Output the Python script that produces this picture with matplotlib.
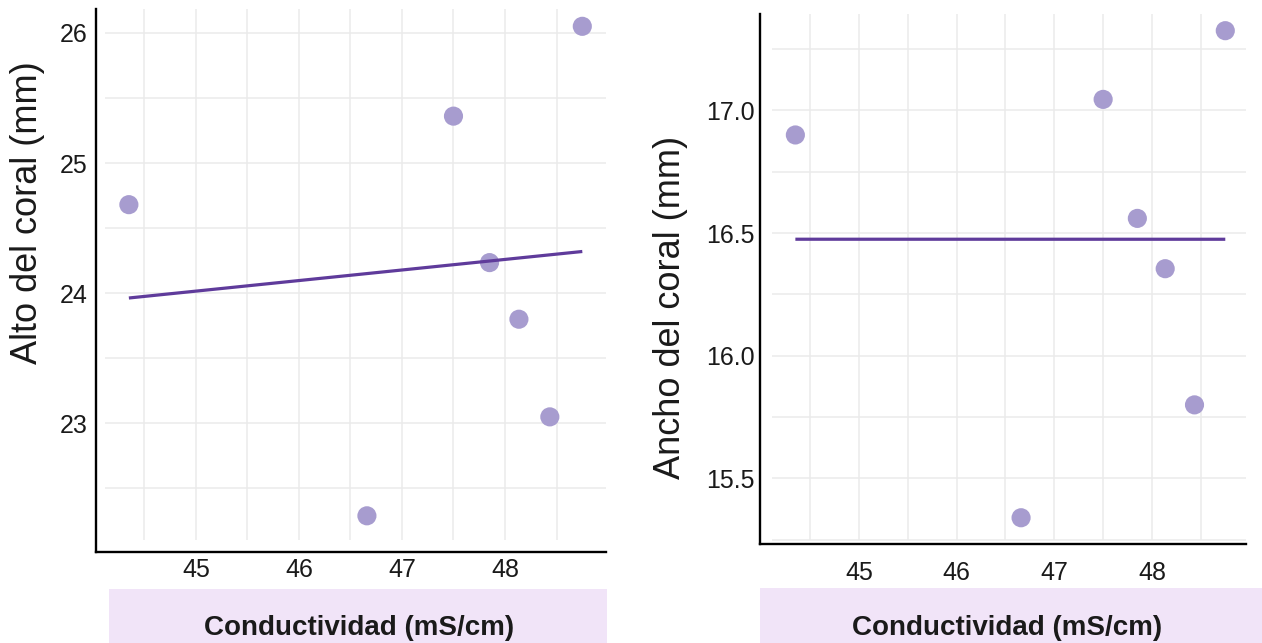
import matplotlib
matplotlib.use('Agg')
import matplotlib.pyplot as plt
from matplotlib.patches import Rectangle
import numpy as np

plt.rcParams['font.family'] = ['Liberation Sans', 'DejaVu Sans']

# data
conductividad = [44.35, 46.66, 47.50, 47.85, 48.135, 48.435, 48.75]
alto = [24.68, 22.29, 25.36, 24.235, 23.80, 23.05, 26.05]
ancho = [16.90, 15.34, 17.045, 16.56, 16.355, 15.80, 17.325]

x_ticks = [45, 46, 47, 48]
alto_ticks = [23, 24, 25, 26]
ancho_ticks = [15.5, 16.0, 16.5, 17.0]
ancho_ticklabels = ['15.5', '16.0', '16.5', '17.0']

point_col = '#a79ccf'
line_col = '#5f3b9b'
grid_col = '#ebebeb'
text_col = '#1a1a1a'

W, H = 1262, 643
fig = plt.figure(figsize=(W / 100, H / 100), dpi=100)


def px_rect(x0, x1, y0, y1):
    # pixel box (top-left origin) -> figure fraction rect
    return [x0 / W, (H - y1) / H, (x1 - x0) / W, (y1 - y0) / H]


def panel(rect, xlim, ylim, yvals, yticks, ylabels, gx, gy, gclip_x, gclip_y,
          xpad, ypad):
    ax = fig.add_axes(rect)
    ax.set_xlim(*xlim)
    ax.set_ylim(*ylim)
    # grid drawn from the tick grids, starting a little inside the axis lines
    ax.vlines(gx, gclip_y, 1, transform=ax.get_xaxis_transform(),
              color=grid_col, lw=1.1, zorder=0)
    ax.hlines(gy, gclip_x, 1, transform=ax.get_yaxis_transform(),
              color=grid_col, lw=1.1, zorder=0)
    ax.scatter(conductividad, yvals, s=190, color=point_col, edgecolors='none',
               zorder=3)
    k, b = np.polyfit(conductividad, yvals, 1)
    xs = np.array([min(conductividad), max(conductividad)])
    ax.plot(xs, k * xs + b, color=line_col, lw=2.3, zorder=4,
            solid_capstyle='butt')
    ax.set_xticks(x_ticks)
    ax.set_xticklabels([str(t) for t in x_ticks])
    ax.set_yticks(yticks)
    ax.set_yticklabels(ylabels)
    ax.tick_params(axis='x', length=0, pad=xpad, labelsize=18, labelcolor=text_col)
    ax.tick_params(axis='y', length=0, pad=ypad, labelsize=18, labelcolor=text_col)
    for s in ['top', 'right']:
        ax.spines[s].set_visible(False)
    for s in ['left', 'bottom']:
        ax.spines[s].set_linewidth(1.7)
        ax.spines[s].set_color('black')
    ax.patch.set_alpha(0)
    return ax


gx = np.arange(44.5, 48.6, 0.5)

panel(px_rect(96, 606, 9, 552), (44.031, 48.98), (22.012, 26.183),
      alto, alto_ticks, [str(t) for t in alto_ticks],
      gx, np.arange(22.5, 26.1, 0.5), 9 / 510, 12 / 543, 4, 6)

panel(px_rect(760, 1246, 14, 544), (43.988, 48.962), (15.233, 17.393),
      ancho, ancho_ticks, ancho_ticklabels,
      gx, np.arange(15.25, 17.3, 0.25), 12 / 486, 4 / 530, 12, 4)

# y axis titles
fig.text(28 / W, 1 - 213 / H, 'Alto del coral (mm)', rotation=90,
         ha='center', va='center', fontsize=26, color=text_col)
fig.text(670 / W, 1 - 307 / H, 'Ancho del coral (mm)', rotation=90,
         ha='center', va='center', fontsize=26, color=text_col)

# x axis titles on a lavender strip
for x0, x1, y0, xc in [(109, 607, 589, 359), (760, 1262, 588, 1007)]:
    fig.patches.append(Rectangle((x0 / W, 0), (x1 - x0) / W, (H - y0) / H,
                                 transform=fig.transFigure, facecolor='#f1e4f8',
                                 edgecolor='none', zorder=0))
    fig.text(xc / W, (H - 635) / H, 'Conductividad (mS/cm)', ha='center',
             va='baseline', fontsize=20, fontweight='bold', color=text_col)

fig.savefig('out.png', dpi=100)
